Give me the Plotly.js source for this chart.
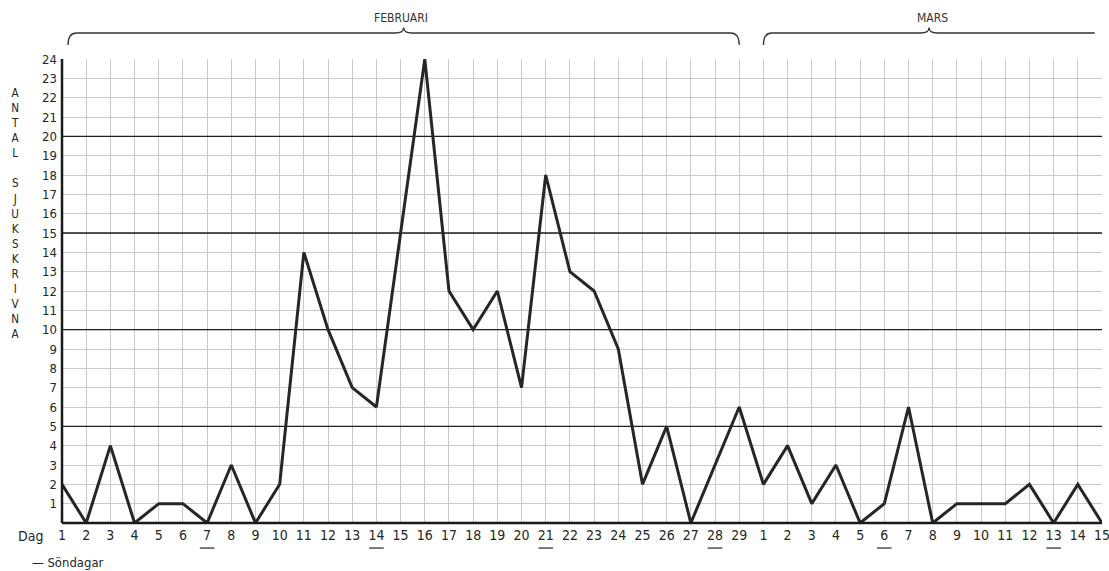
<!DOCTYPE html>
<html>
<head>
<meta charset="utf-8">
<script src="https://cdn.plot.ly/plotly-3.0.1.min.js"></script>
<style>html,body{margin:0;padding:0;background:#fff;}#chart{width:1109px;height:571px;}</style>
</head>
<body>
<div id="chart"></div>
<script>
// ---- data ----
const febDays = [1,2,3,4,5,6,7,8,9,10,11,12,13,14,15,16,17,18,19,20,21,22,23,24,25,26,27,28,29];
const febValues = [2,0,4,0,1,1,0,3,0,2,14,10,7,6,15,24,12,10,12,7,18,13,12,9,2,5,0,3,6];
const marDays = [1,2,3,4,5,6,7,8,9,10,11,12,13,14,15];
const marValues = [2,4,1,3,0,1,6,0,1,1,1,2,0,2,0];
const febSundays = [7,14,21,28];
const marSundays = [6,13];
const monthNames = ['FEBRUARI','MARS'];
const yTicks = [1,2,3,4,5,6,7,8,9,10,11,12,13,14,15,16,17,18,19,20,21,22,23,24];
const majorLines = [5,10,15,20];
const yTitle = 'ANTAL SJUKSKRIVNA';

// ---- derived ----
const labels = febDays.concat(marDays).map(String);
const values = febValues.concat(marValues);
const idx = labels.map((_, i) => i);
const nFeb = febDays.length;
const lastIdx = labels.length - 1;
const sundayIdx = febSundays.map(d => febDays.indexOf(d)).concat(marSundays.map(d => nFeb + marDays.indexOf(d)));

const FONT = '"DejaVu Sans Condensed", "Roboto", sans-serif';
const GRID = '#c9c9c9';
const INK = '#262626';

const traces = [];
// heavier reference lines at every fifth unit
majorLines.forEach(v => traces.push({
  x:[0, lastIdx], y:[v, v], type:'scatter', mode:'lines', line:{color:'#1e1e1e', width:1.4}, hoverinfo:'skip'
}));
traces.push({
  x: idx, y: values, type:'scatter', mode:'lines',
  line:{color:INK, width:3}, cliponaxis:false, hoverinfo:'skip'
});

const shapes = [];
sundayIdx.forEach(i => shapes.push({type:'line', xref:'x', yref:'paper', x0:i-0.3, x1:i+0.3, y0:-0.054, y1:-0.054, line:{color:INK, width:1.2}}));

// braces over months
function brace(a, b, closeRight) {
  const yl = 1.030, yt = 1.056, yp = 1.068;
  const c = (a + b) / 2, d = 0.35;
  let p = `M ${a},${yl} Q ${a},${yt} ${a+d},${yt} L ${c-d},${yt} Q ${c},${yt} ${c},${yp} Q ${c},${yt} ${c+d},${yt} `;
  if (closeRight) p += `L ${b-d},${yt} Q ${b},${yt} ${b},${yl}`;
  else p += `L ${b},${yt}`;
  return {type:'path', xref:'x', yref:'paper', path:p, line:{color:'#333', width:1.3}};
}
shapes.push(brace(0.25, nFeb - 1, true));
shapes.push(brace(nFeb, lastIdx - 0.3, false));
shapes.push({type:'line', xref:'paper', yref:'paper', x0:0, x1:0, y0:0, y1:1, line:{color:'#1a1a1a', width:2.5}});
shapes.push({type:'line', xref:'paper', yref:'paper', x0:0, x1:1, y0:0, y1:0, line:{color:'#1a1a1a', width:2.5}});

const annotations = [
  {xref:'x', yref:'paper', x:(nFeb-1)/2, y:1.108, xanchor:'center', text:monthNames[0], showarrow:false, font:{family:FONT, size:12, color:'#333'}},
  {xref:'x', yref:'paper', x:(nFeb + lastIdx)/2, y:1.108, xanchor:'center', text:monthNames[1], showarrow:false, font:{family:FONT, size:12, color:'#333'}},
  {xref:'paper', yref:'paper', x:-0.016, y:-0.028, xanchor:'right', yanchor:'middle', text:'Dag', showarrow:false, font:{family:FONT, size:14, color:INK}},
  {xref:'paper', yref:'paper', x:-0.031, y:-0.086, xanchor:'left', yanchor:'middle', text:'— Söndagar', showarrow:false, font:{family:FONT, size:13, color:INK}},
  {xref:'paper', yref:'paper', x:-0.0445, y:(523 - 84)/464, xanchor:'center', yanchor:'top', text:yTitle.split('').map(c => c === ' ' ? '&nbsp;' : c).join('<br>'),
   showarrow:false, align:'center', font:{family:FONT, size:11.6, color:INK}}
];

const layout = {
  width:1109, height:571,
  margin:{l:62, r:7, t:59, b:48},
  paper_bgcolor:'#ffffff', plot_bgcolor:'#ffffff',
  showlegend:false,
  xaxis:{range:[0, lastIdx], tickvals:idx, ticktext:labels, showgrid:true, gridcolor:GRID, gridwidth:1,
         zeroline:false, showline:false, ticks:'', ticklabelstandoff:2, ticklabeloverflow:'allow',
         tickfont:{family:FONT, size:14, color:INK}, fixedrange:true},
  yaxis:{range:[0,24], tickvals:yTicks, showgrid:true, gridcolor:GRID, gridwidth:1, zeroline:false,
         showline:false, ticks:'', ticklabelstandoff:4, tickfont:{family:FONT, size:13, color:INK}, fixedrange:true},
  shapes: shapes,
  annotations: annotations
};

Plotly.newPlot('chart', traces, layout, {displayModeBar:false, staticPlot:true});
</script>
</body>
</html>
